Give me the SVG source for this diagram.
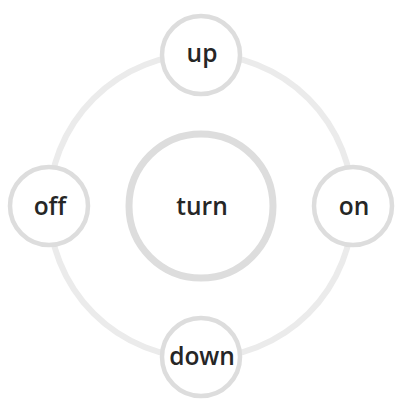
<svg xmlns="http://www.w3.org/2000/svg" width="401" height="402" viewBox="0 0 401 402">
<style>
.ring{fill:none;stroke:#ebebeb;stroke-width:6}
.node{fill:#fff;stroke:#dddddd;stroke-width:4.5}
.hub{fill:#fff;stroke:#dddddd;stroke-width:7}
.lbl{font-family:"Open Sans","Noto Sans",sans-serif;font-size:24.5px;font-weight:600;fill:#262626;text-anchor:middle}
</style>
<rect width="401" height="402" fill="#fff"/>
<g id="connectors">
<circle class="ring" cx="201" cy="206" r="152"/>
</g>
<g id="turn">
<circle class="hub" cx="201" cy="206" r="72"/>
<text class="lbl" x="202" y="215">turn</text>
</g>
<g id="up">
<circle class="node" cx="201" cy="55" r="39"/>
<text class="lbl" x="202" y="62">up</text>
</g>
<g id="on">
<circle class="node" cx="353" cy="206" r="39"/>
<text class="lbl" x="354" y="215">on</text>
</g>
<g id="down">
<circle class="node" cx="201" cy="357" r="39"/>
<text class="lbl" x="202" y="365">down</text>
</g>
<g id="off">
<circle class="node" cx="49" cy="206" r="39"/>
<text class="lbl" x="50" y="215">off</text>
</g>
</svg>
